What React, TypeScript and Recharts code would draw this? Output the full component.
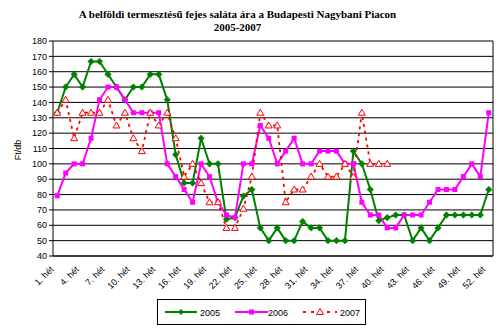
import React from 'react';
import { LineChart, Line, XAxis, YAxis, CartesianGrid, ReferenceLine } from 'recharts';

const weeks: number[] = Array.from({ length: 52 }, (_, i) => i + 1);
const labelWeeks: number[] = [1, 4, 7, 10, 13, 16, 19, 22, 25, 28, 31, 34, 37, 40, 43, 46, 49, 52];
const boundaryTicks: number[] = Array.from({ length: 53 }, (_, i) => i + 0.5);
const yTicks: number[] = [40, 50, 60, 70, 80, 90, 100, 110, 120, 130, 140, 150, 160, 170, 180];

const s2005: (number | null)[] = [
  133.3, 150, 158.3, 150, 166.7, 166.7, 158.3, 150, 141.7, 150,
  150, 158.3, 158.3, 141.7, 106, 87.5, 87.5, 116.7, 100, 100,
  64, 65, 79, 83.3, 58.3, 50, 58.3, 50, 50, 62.5,
  58.3, 58.3, 50, 50, 50, 108.3, 100, 83.3, 63, 65,
  66.7, 66.7, 50, 58.3, 50, 58.3, 66.7, 66.7, 66.7, 66.7,
  66.7, 83.3,
];
const s2006: (number | null)[] = [
  79.2, 94, 100, 100, 116.7, 141.7, 150, 150, 141.7, 133.3,
  133.3, 133.3, 133.3, 100, 91.7, 83.3, 75, 100, 91.7, 75,
  66.7, 65, 100, 100, 125, 116.7, 100, 108.3, 116.7, 100,
  100, 108.3, 108.3, 108.3, 100, 100, 75, 66.7, 66.7, 58.3,
  58.3, 66.7, 66.7, 66.7, 75, 83.3, 83.3, 83.3, 91.7, 100,
  91.7, 133.3,
];
const s2007: (number | null)[] = [
  133.3, 141.7, 116.7, 133.3, 133.3, 133.3, 141.7, 125, 133.3, 116.7,
  108.3, 133.3, 125, 133.3, 116.7, 91.7, 100, 87.5, 75, 75,
  58.3, 58.3, 70.8, 91.7, 133.3, 125, 125, 75, 83.3, 83.3,
  91.7, 100, 91.7, 91.7, 100, 91.7, 133.3, 100, 100, 100,
  null, null, null, null, null, null, null, null, null, null,
  null, null,
];

const data = weeks.map((w, i) => ({ week: w, y2005: s2005[i], y2006: s2006[i], y2007: s2007[i] }));

const GREEN = '#008000';
const MAGENTA = '#ff00ff';
const RED = '#ff0000';
const FONT = '"Liberation Sans", Arial, sans-serif';

const Diamond = (props: any) => {
  const { cx, cy, index } = props;
  if (cx == null || cy == null || isNaN(cy)) return <g key={`d${index}`} />;
  const r = 3.3;
  return <path key={`d${index}`} d={`M${cx},${cy - r}L${cx + r},${cy}L${cx},${cy + r}L${cx - r},${cy}Z`} fill={GREEN} stroke={GREEN} strokeWidth={0.5} />;
};
const Square = (props: any) => {
  const { cx, cy, index } = props;
  if (cx == null || cy == null || isNaN(cy)) return <g key={`s${index}`} />;
  return <rect key={`s${index}`} x={cx - 2.5} y={cy - 2.5} width={5} height={5} fill={MAGENTA} />;
};
const Triangle = (props: any) => {
  const { cx, cy, index } = props;
  if (cx == null || cy == null || isNaN(cy)) return <g key={`t${index}`} />;
  return <path key={`t${index}`} d={`M${cx},${cy - 3.5}L${cx + 3.5},${cy + 2.5}L${cx - 3.5},${cy + 2.5}Z`} fill="#fff" stroke={RED} strokeWidth={1} />;
};

const XTick = (props: any) => {
  const { x, y, payload } = props;
  return (
    <text x={x - 3} y={y + 6} transform={`rotate(-45, ${x - 3}, ${y + 6})`} textAnchor="end" fontSize={9} fontFamily={FONT} fill="#000">
      {`${payload.value}. hét`}
    </text>
  );
};

const MarkTick = (props: any) => {
  const { x, y } = props;
  return <line x1={x} y1={y} x2={x} y2={y + 4} stroke="#000" strokeWidth={1} />;
};

export default function App() {
  return (
    <div style={{ position: 'absolute', left: 0, top: 0, width: 500, height: 331, background: '#fff' }}>
      <div style={{ position: 'absolute', left: 0, top: 8, width: 475, textAlign: 'center', fontFamily: '"Liberation Serif", "Times New Roman", serif', fontWeight: 'bold', fontSize: 11, lineHeight: '13px', color: '#000' }}>
        A belföldi termesztésű fejes saláta ára a Budapesti Nagybani Piacon<br />2005-2007
      </div>
      <div style={{ position: 'absolute', left: 18, top: 150, transform: 'translate(-50%, -50%) rotate(-90deg)', fontFamily: FONT, fontSize: 9, color: '#000', whiteSpace: 'nowrap' }}>
        Ft/db
      </div>
      <LineChart width={500} height={331} data={data} margin={{ top: 41, right: 7, left: 0, bottom: 30 }}>
        <CartesianGrid vertical={false} stroke="#000" strokeWidth={1} />
        <XAxis xAxisId="marks" dataKey="week" type="number" domain={[0.5, 52.5]} ticks={boundaryTicks} interval={0} tick={<MarkTick />} tickLine={false} tickSize={0} axisLine={false} height={0} allowDataOverflow />
        <XAxis dataKey="week" type="number" domain={[0.5, 52.5]} ticks={labelWeeks} interval={0} tickLine={false} axisLine={{ stroke: '#000' }} tick={<XTick />} height={45} allowDataOverflow />
        <YAxis domain={[40, 180]} ticks={yTicks} interval={0} width={53} tickSize={4} tickLine={{ stroke: '#000' }} axisLine={{ stroke: '#000' }} tick={{ fontSize: 9, fontFamily: FONT, fill: '#000' }} allowDataOverflow />
        <ReferenceLine x={52.5} stroke="#000" ifOverflow="visible" />
        <Line type="linear" dataKey="y2005" stroke={GREEN} strokeWidth={2} dot={<Diamond />} activeDot={false} isAnimationActive={false} />
        <Line type="linear" dataKey="y2006" stroke={MAGENTA} strokeWidth={2} dot={<Square />} activeDot={false} isAnimationActive={false} />
        <Line type="linear" dataKey="y2007" stroke={RED} strokeWidth={1.8} strokeDasharray="3 4" dot={<Triangle />} activeDot={false} isAnimationActive={false} />
      </LineChart>
      <div style={{ position: 'absolute', left: 157, top: 299, width: 209, height: 26, boxSizing: 'border-box', border: '1px solid #000', fontFamily: FONT, fontSize: 9, color: '#000' }}>
        <svg width={209} height={26} style={{ position: 'absolute', left: -1, top: -1 }}>
          <line x1={8} y1={13} x2={40} y2={13} stroke={GREEN} strokeWidth={2} />
          <path d="M24,10L27,13L24,16L21,13Z" fill={GREEN} />
          <text x={43} y={16.5} fontSize={9} fontFamily={FONT}>2005</text>
          <line x1={78} y1={13} x2={111} y2={13} stroke={MAGENTA} strokeWidth={2} />
          <rect x={92} y={10.5} width={5} height={5} fill={MAGENTA} />
          <text x={111} y={16.5} fontSize={9} fontFamily={FONT}>2006</text>
          <line x1={146} y1={13} x2={180} y2={13} stroke={RED} strokeWidth={1.8} strokeDasharray="3 5" />
          <path d="M163,9.5L166.5,15.5L159.5,15.5Z" fill="#fff" stroke={RED} strokeWidth={1} />
          <text x={183} y={16.5} fontSize={9} fontFamily={FONT}>2007</text>
        </svg>
      </div>
    </div>
  );
}
